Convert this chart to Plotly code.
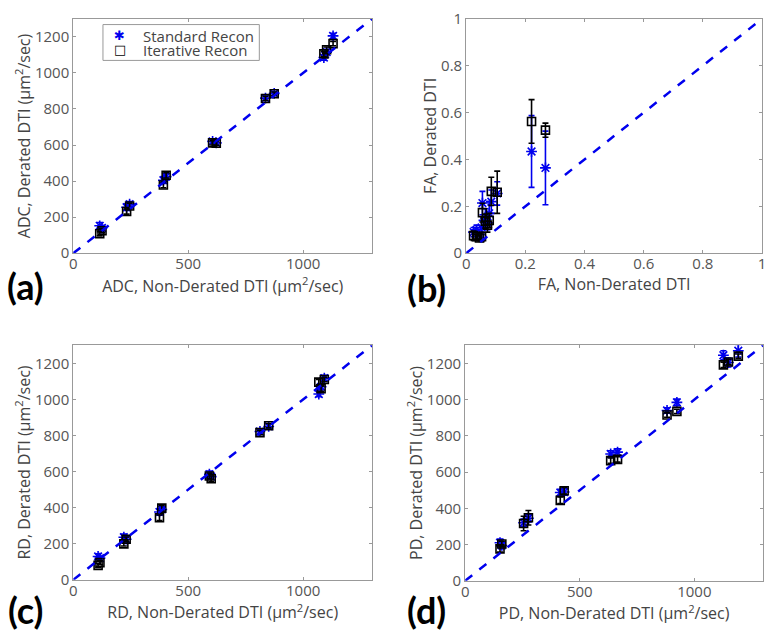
import plotly.graph_objects as go

# ---- data ----
identity_line = [0, 1300]
identity_fa = [0, 1]

adc_x = [115, 125, 232, 245, 392, 404, 606, 622, 836, 874, 1090, 1102, 1130]
adc_std = [152, 140, 255, 272, 405, 425, 620, 612, 860, 886, 1085, 1115, 1205]
adc_std_err = [18, 15, 18, 15, 18, 15, 12, 12, 12, 10, 15, 15, 15]
adc_itr = [108, 125, 231, 262, 378, 432, 612, 610, 858, 884, 1105, 1128, 1162]
adc_itr_err = [12, 12, 14, 15, 15, 15, 12, 12, 12, 10, 15, 15, 12]

fa_x = [0.025, 0.035, 0.045, 0.052, 0.055, 0.065, 0.072, 0.078, 0.085, 0.105, 0.221, 0.268]
fa_std = [0.09, 0.10, 0.08, 0.11, 0.214, 0.15, 0.13, 0.17, 0.22, 0.255, 0.434, 0.364]
fa_std_err = [0.02, 0.02, 0.02, 0.03, 0.05, 0.04, 0.03, 0.05, 0.05, 0.05, 0.153, 0.157]
fa_itr = [0.075, 0.07, 0.065, 0.07, 0.173, 0.137, 0.12, 0.14, 0.264, 0.26, 0.562, 0.525]
fa_itr_err = [0.02, 0.01, 0.01, 0.02, 0.04, 0.03, 0.03, 0.03, 0.06, 0.09, 0.093, 0.03]

rd_x = [108, 116, 220, 230, 375, 385, 592, 600, 812, 850, 1068, 1078, 1092]
rd_std = [129, 120, 236, 225, 376, 390, 585, 572, 822, 850, 1030, 1070, 1118]
rd_std_err = [15, 12, 18, 15, 18, 15, 18, 15, 12, 12, 15, 15, 15]
rd_itr = [80, 95, 199, 225, 344, 397, 575, 560, 816, 854, 1096, 1060, 1110]
rd_itr_err = [12, 12, 12, 12, 15, 15, 15, 15, 12, 12, 15, 15, 12]

pd_x = [152, 160, 255, 276, 415, 432, 635, 665, 881, 924, 1127, 1149, 1192]
pd_std = [210, 195, 320, 345, 487, 490, 700, 710, 940, 985, 1245, 1205, 1270]
pd_std_err = [20, 18, 20, 20, 18, 18, 18, 18, 15, 18, 25, 25, 35]
pd_itr = [176, 203, 316, 348, 444, 497, 663, 670, 915, 935, 1192, 1208, 1240]
pd_itr_err = [18, 15, 40, 40, 18, 18, 15, 15, 12, 12, 15, 15, 12]

legend_names = ["Standard Recon", "Iterative Recon"]

BLUE = "#0000ee"
BLACK = "#000000"
GRAY = "#999999"
FONT = "Open Sans"

panels = [
    dict(x=adc_x, s=adc_std, se=adc_std_err, i=adc_itr, ie=adc_itr_err, ref=identity_line,
         xdom=[70 / 772, 372 / 772], ydom=[1 - 250 / 644, 1 - 8 / 644], rng=[0, 1300],
         xt=[0, 500, 1000], yt=[0, 200, 400, 600, 800, 1000, 1200],
         xlab="ADC, Non-Derated DTI (\u03bcm<sup>2</sup>/sec)",
         ylab="ADC, Derated DTI (\u03bcm<sup>2</sup>/sec)"),
    dict(x=fa_x, s=fa_std, se=fa_std_err, i=fa_itr, ie=fa_itr_err, ref=identity_fa,
         xdom=[467 / 772, 766 / 772], ydom=[1 - 250 / 644, 1 - 8 / 644], rng=[0, 1.0001],
         xt=[0, 0.2, 0.4, 0.6, 0.8, 1], yt=[0, 0.2, 0.4, 0.6, 0.8, 1],
         xlab="FA, Non-Derated DTI", ylab="FA, Derated DTI"),
    dict(x=rd_x, s=rd_std, se=rd_std_err, i=rd_itr, ie=rd_itr_err, ref=identity_line,
         xdom=[70 / 772, 372 / 772], ydom=[1 - 587 / 644, 1 - 345 / 644], rng=[0, 1300],
         xt=[0, 500, 1000], yt=[0, 200, 400, 600, 800, 1000, 1200],
         xlab="RD, Non-Derated DTI (\u03bcm<sup>2</sup>/sec)",
         ylab="RD, Derated DTI (\u03bcm<sup>2</sup>/sec)"),
    dict(x=pd_x, s=pd_std, se=pd_std_err, i=pd_itr, ie=pd_itr_err, ref=identity_line,
         xdom=[466 / 772, 767 / 772], ydom=[1 - 588 / 644, 1 - 345 / 644], rng=[0, 1300],
         xt=[0, 500, 1000], yt=[0, 200, 400, 600, 800, 1000, 1200],
         xlab="PD, Non-Derated DTI (\u03bcm<sup>2</sup>/sec)",
         ylab="PD, Derated DTI (\u03bcm<sup>2</sup>/sec)"),
]

fig = go.Figure()
layout = {}
for k, p in enumerate(panels):
    n = "" if k == 0 else str(k + 1)
    xa, ya = "x" + n, "y" + n
    fig.add_trace(go.Scatter(
        x=p["x"], y=p["s"], xaxis=xa, yaxis=ya, mode="markers",
        name=legend_names[0], showlegend=False,
        marker=dict(symbol="asterisk-open", size=9, color=BLUE, line=dict(color=BLUE, width=1.6)),
        error_y=dict(type="data", array=p["se"], color=BLUE, thickness=1.6, width=3)))
    fig.add_trace(go.Scatter(
        x=p["x"], y=p["i"], xaxis=xa, yaxis=ya, mode="markers",
        name=legend_names[1], showlegend=False,
        marker=dict(symbol="square-open", size=8, color=BLACK, line=dict(color=BLACK, width=1.6)),
        error_y=dict(type="data", array=p["ie"], color=BLACK, thickness=1.6, width=3)))
    fig.add_trace(go.Scatter(
        x=p["ref"], y=p["ref"], xaxis=xa, yaxis=ya, mode="lines", showlegend=False,
        line=dict(color=BLUE, width=2.5, dash="dash"), hoverinfo="skip"))

    common = dict(range=p["rng"], showline=True, linecolor=GRAY, linewidth=1, mirror="ticks",
                  ticks="inside", ticklen=3, tickcolor=GRAY, showgrid=False, zeroline=False,
                  ticklabeloverflow="allow",
                  tickfont=dict(size=15, color="#555555", family=FONT),
                  title_font=dict(size=16, color="#444444", family=FONT))
    layout["xaxis" + n] = dict(common, domain=p["xdom"], anchor=ya, tickvals=p["xt"],
                               ticklabelstandoff=-3,
                               title=dict(text=p["xlab"], standoff=6))
    layout["yaxis" + n] = dict(common, domain=p["ydom"], anchor=xa, tickvals=p["yt"],
                               title=dict(text=p["ylab"], standoff=0))

fig.update_layout(**layout)

# panel tags
panel_tags = ["(a)", "(b)", "(c)", "(d)"]
tag_pos = [(22, 284), (427, 286), (22, 618), (427, 618)]
for tag, (px, py) in zip(panel_tags, tag_pos):
    fig.add_annotation(text="<b>%s</b>" % tag, x=px / 772, y=1 - py / 644, xref="paper", yref="paper",
                       showarrow=False, xanchor="center", yanchor="middle",
                       font=dict(size=36, color="black", family="Lato"))

# compact legend box like the MATLAB one (tight row spacing)
fig.add_shape(type="rect", xref="paper", yref="paper",
              x0=100 / 772, x1=258 / 772, y0=1 - 51 / 644, y1=1 - 14 / 644,
              line=dict(color=GRAY, width=1), fillcolor="white", layer="above")
legend_syms = [("\u2731", BLUE), ("\u25a1", BLACK)]
for row, (name, (sym, col)) in enumerate(zip(legend_names, legend_syms)):
    yy = 1 - (25.5 + 14.5 * row) / 644
    fig.add_annotation(text=sym, x=117 / 772, y=yy, xref="paper", yref="paper", showarrow=False,
                       xanchor="center", yanchor="middle",
                       font=dict(size=13, color=col, family="DejaVu Sans"))
    fig.add_annotation(text=name, x=138 / 772, y=yy, xref="paper", yref="paper", showarrow=False,
                       xanchor="left", yanchor="middle",
                       font=dict(size=15, color="#444444", family=FONT))

fig.update_layout(
    width=772, height=644, margin=dict(l=0, r=0, t=0, b=0),
    paper_bgcolor="white", plot_bgcolor="white",
    font=dict(family=FONT, color="#444444"),
    showlegend=False,
)

# the page body has a default 8px margin; drop it so the figure sits at the window origin
fig.write_html("out.html", config={"displayModeBar": False},
               post_script="document.body.style.margin='0';")
